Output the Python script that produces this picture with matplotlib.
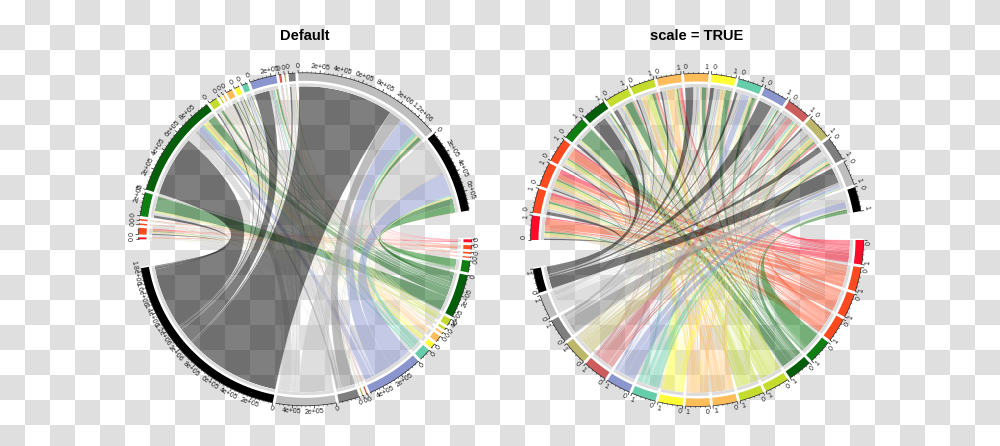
import matplotlib
matplotlib.use("Agg")
import matplotlib.pyplot as plt
import numpy as np
from matplotlib.path import Path
from matplotlib.patches import PathPatch
from matplotlib.collections import LineCollection
from matplotlib.colors import to_rgba, ListedColormap

plt.rcParams['font.family'] = ['Liberation Sans', 'DejaVu Sans']

colors = ['#FF0A28', '#FF4A20', '#FF4A20', '#FF4A20', '#0F7F12', '#055F0A', '#C4DC2E', '#C4DC2E', '#FFBC5A',
          '#FFBC5A', '#FFFF33', '#66CDAA', '#8B95CE', '#CD5C5C', '#BDB76B', '#7F7F7F', '#BEBEBE', '#000000']

# flows between the upper sectors (rows) and the lower sectors (columns), one unit is 2600
unit = 2600
flows = np.array([
    [0.4, 3.0, 0.5, 0.3, 0.1, 0.4, 0.4, 0.2, 0.2, 0.3, 0.1, 0.1, 0.1, 0.05, 0.05, 0.05, 0.2, 0.4],
    [3, 3, 2, 1, 0.5, 2, 1.5, 0.8, 1, 1.5, 0.6, 0.5, 0.5, 0.1, 0.1, 0.3, 1.5, 3.5],
    [1.3, 1.0, 0.1, 0.2, 0.1, 0.3, 0.7, 0.1, 0.2, 0.5, 0.1, 0.1, 0.1, 0.05, 0.05, 0.05, 0.3, 0.3],
    [0.5, 2.0, 0.5, 0.1, 0.1, 0.3, 0.7, 0.15, 0.1, 0.2, 0.1, 0.1, 0.1, 0.05, 0.05, 0.1, 0.3, 0.3],
    [0.2, 0.3, 0.1, 0.1, 2, 55, 5, 0.8, 0.4, 1.5, 0.8, 1, 2, 0.1, 0.1, 0.8, 5, 10],
    [0.6, 1, 0.3, 0.3, 1, 30, 5, 3, 1, 6, 8, 8, 25, 0.3, 0.3, 10, 40, 235],
    [0.5, 0.5, 0.3, 0.3, 0.8, 10, 1, 0.4, 0.5, 1.3, 0.6, 0.8, 1.5, 0.1, 0.1, 1, 4, 5.5],
    [0.2, 0.2, 0.1, 0.1, 0.1, 0.6, 1.4, 0.1, 0.2, 0.7, 0.2, 0.1, 0.2, 0.02, 0.02, 0.1, 0.4, 0.3],
    [0.5, 0.2, 0.1, 0.1, 0.1, 0.3, 0.4, 0.1, 0.1, 1.6, 0.2, 0.1, 0.2, 0.02, 0.02, 0.1, 0.4, 0.4],
    [0.3, 0.3, 0.2, 0.2, 0.2, 4.5, 0.6, 0.2, 0.3, 0.6, 0.6, 0.5, 0.8, 0.1, 0.1, 1.5, 3, 8],
    [0.1, 0.4, 0.1, 0.1, 0.3, 4.5, 1, 0.2, 0.3, 2, 0.4, 0.5, 1, 0.1, 0.1, 1, 2.5, 3],
    [0.3, 0.3, 0.1, 0.1, 0.8, 3, 0.8, 0.2, 0.2, 0.6, 0.5, 0.5, 7, 0.1, 0.1, 1, 3, 2.5],
    [1, 0.6, 0.2, 0.2, 1.5, 6, 1, 0.3, 0.3, 1, 1, 8, 3, 0.3, 0.3, 4, 8, 58],
    [0.3, 0.3, 0.2, 0.2, 0.1, 0.3, 0.2, 0.1, 0.1, 0.2, 0.2, 0.8, 0.2, 2.2, 0.1, 1, 1.5, 0.3],
    [0.2, 0.1, 0.1, 0.1, 0.1, 0.3, 0.4, 0.1, 0.1, 0.3, 0.2, 0.3, 0.1, 0.1, 0.1, 0.5, 1.4, 0.4],
    [0.5, 0.4, 0.2, 0.2, 0.5, 1.5, 1, 0.3, 0.3, 1, 0.5, 1.2, 2, 0.2, 0.5, 1, 7, 6],
    [0.5, 0.5, 0.5, 0.5, 3, 12, 2, 1, 1, 2, 2, 15, 70, 0.5, 1, 50, 1, 370],
    [0.3, 0.5, 0.2, 0.2, 30, 25, 2, 0.5, 0.5, 2, 3, 6, 90, 0.5, 2, 2, 135, 0.5],
])
titles = ['Default', 'scale = TRUE']
major_step = 200000
minor_per_major = 5


def pts(cx, cy, r, angles):
    a = np.radians(angles)
    return np.column_stack([cx + r * np.cos(a), cy - r * np.sin(a)])


def ring(ax, cx, cy, r0, r1, a0, a1, color, z):
    n = max(int(abs(a1 - a0)) + 2, 2)
    outer = pts(cx, cy, r1, np.linspace(a0, a1, n))
    inner = pts(cx, cy, r0, np.linspace(a1, a0, n))
    verts = np.vstack([outer, inner, outer[:1]])
    ax.add_patch(PathPatch(Path(verts), fc=color, ec='none', lw=0, zorder=z))


def ribbon(ax, cx, cy, r, a0, a1, b0, b1, color):
    n0 = max(int(abs(a1 - a0)) + 2, 2)
    n1 = max(int(abs(b1 - b0)) + 2, 2)
    arc_a = pts(cx, cy, r, np.linspace(a0, a1, n0))
    arc_b = pts(cx, cy, r, np.linspace(b0, b1, n1))
    verts = list(arc_a) + [(cx, cy)] + list(arc_b) + [(cx, cy), arc_a[0]]
    codes = [Path.MOVETO] + [Path.LINETO] * (n0 - 1) + [Path.CURVE3, Path.CURVE3]
    codes += [Path.LINETO] * (n1 - 1) + [Path.CURVE3, Path.CURVE3]
    ax.add_patch(PathPatch(Path(verts, codes), fc=to_rgba(color, 0.5), ec=(1, 1, 1, 0.25), lw=0.15, zorder=2))


def tick_text(value):
    if value == 0:
        return '0'
    mant, exp = ('%.1e' % value).split('e')
    mant = mant.rstrip('0').rstrip('.')
    return mant + 'e+' + exp[1:]


def chord(ax, cx, cy, top_w, bottom_w, top_totals, bottom_totals, scaled):
    gap = 1.0
    r_out, r_band, r_track, r_in = 166.5, 158.5, 156.0, 153.0
    n = len(colors)
    segs, minor_segs = [], []

    top_start = np.zeros(n)
    bottom_start = np.zeros(n)
    a = 180.0
    for i in range(n):
        top_start[i] = a
        a -= top_w[i].sum() + gap
    a = 0.0
    for j in range(n):
        bottom_start[j] = a
        a -= bottom_w[:, j].sum() + gap

    # links, each side ordered so that they do not twist inside a sector
    top_pos = top_start.copy()
    bottom_pos = bottom_start.copy()
    links = {}
    for i in range(n):
        for j in range(n - 1, -1, -1):
            links[(i, j, 'a')] = top_pos[i]
            top_pos[i] -= top_w[i, j]
    for j in range(n):
        for i in range(n - 1, -1, -1):
            links[(i, j, 'b')] = bottom_pos[j]
            bottom_pos[j] -= bottom_w[i, j]
    for i in range(n):
        for j in range(n):
            a0 = links[(i, j, 'a')]
            b0 = links[(i, j, 'b')]
            ribbon(ax, cx, cy, r_in, a0, a0 - top_w[i, j], b0, b0 - bottom_w[i, j], colors[j])

    # sectors, axis and labels
    for half, starts, widths, totals in (('top', top_start, top_w.sum(axis=1), top_totals),
                                         ('bottom', bottom_start, bottom_w.sum(axis=0), bottom_totals)):
        for k in range(n):
            a0, a1 = starts[k], starts[k] - widths[k]
            ring(ax, cx, cy, r_in, r_out, a0 + gap * 0.5, a1 - gap * 0.5, 'white', 3)
            ring(ax, cx, cy, r_band, r_out, a0, a1, colors[k], 4)
            ring(ax, cx, cy, r_in, r_track, a0, a1, '#DCDCDC', 4)
            segs.append(pts(cx, cy, r_out, np.linspace(a0, a1, max(int(widths[k]) + 2, 2))))
            if scaled:
                major = [0.0, 1.0]
                minor = [0.2, 0.4, 0.6, 0.8]
            else:
                major = list(np.arange(0, totals[k], major_step))
                step = major_step / minor_per_major
                minor = [v for v in np.arange(0, totals[k], step) if v % major_step != 0]
            for v in minor:
                ang = a0 - widths[k] * v / totals[k]
                minor_segs.append(pts(cx, cy, np.array([r_out, r_out + 1.5]), np.array([ang, ang])))
            for v in major:
                ang = a0 - widths[k] * v / totals[k]
                segs.append(pts(cx, cy, np.array([r_out, r_out + 3]), np.array([ang, ang])))
                lab_ang = ang
                if scaled:
                    lab_ang = ang - 0.85 if v == 0 else ang + 0.85
                    label = '%d' % v
                else:
                    label = tick_text(v)
                p = pts(cx, cy, r_out + 6.2, np.array([lab_ang]))[0]
                rot = lab_ang - 90 if half == 'top' else lab_ang + 90
                ax.text(p[0], p[1], label, fontsize=5, color='#222222', rotation=rot, rotation_mode='anchor',
                        ha='center', va='center', zorder=6)
    ax.add_collection(LineCollection(segs, colors='#222222', linewidths=0.5, zorder=5))
    ax.add_collection(LineCollection(minor_segs, colors='#222222', linewidths=0.35, zorder=5))


fig = plt.figure(figsize=(10, 4.46), dpi=100)
ax = fig.add_axes([0, 0, 1, 1])
ax.set_xlim(0, 1000)
ax.set_ylim(446, 0)
ax.axis('off')

# checkerboard background
cols = np.arange(0, 41) * 25
rows = np.arange(0, 19) * 25
board = (np.add.outer(np.arange(18), np.arange(40)) % 2).astype(float)
ax.pcolormesh(cols, rows, board, cmap=ListedColormap(['white', '#DFDFDF']), zorder=0)

sector_span = 153.0
row_sum = flows.sum(axis=1)
col_sum = flows.sum(axis=0)

# left: widths follow the values
per_unit = sector_span / flows.sum()
chord(ax, 305, 239.3, flows * per_unit, flows * per_unit, row_sum * unit, col_sum * unit, False)

# right: every sector has the same width
each = sector_span / len(colors)
chord(ax, 697, 240, flows / row_sum[:, None] * each, flows / col_sum[None, :] * each,
      np.ones(len(colors)), np.ones(len(colors)), True)

ax.text(305, 36, titles[0], fontsize=10.5, fontweight='bold', ha='center', va='center', color='black')
ax.text(697, 36, titles[1], fontsize=10.5, fontweight='bold', ha='center', va='center', color='black')

plt.savefig('out.png', dpi=100)
